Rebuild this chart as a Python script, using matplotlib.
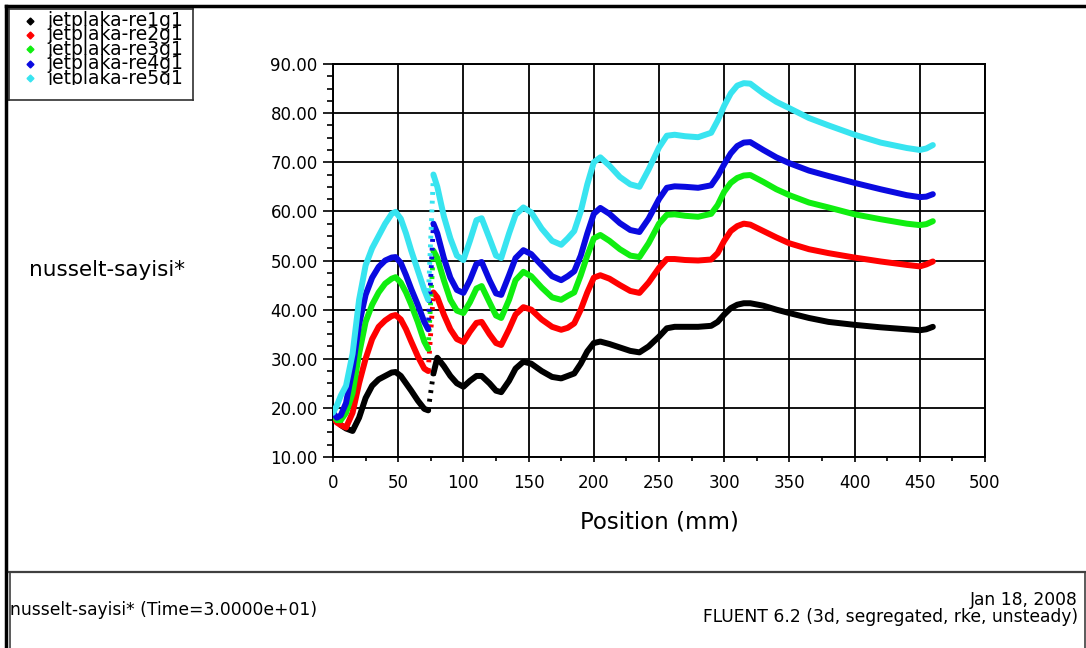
import matplotlib
matplotlib.use("Agg")
import matplotlib.pyplot as plt
from matplotlib.lines import Line2D
from matplotlib.patches import Rectangle
from matplotlib.ticker import MultipleLocator, FormatStrFormatter

plt.rcParams['font.family'] = ['DejaVu Sans']

series_names = ["jetplaka-re1g1", "jetplaka-re2g1", "jetplaka-re3g1",
                "jetplaka-re4g1", "jetplaka-re5g1"]
series_colors = ["#000000", "#ff0000", "#10ee10", "#0a0ae0", "#38e4f0"]

# positions (mm) before and after the jump near 75 mm
pos_left = [0, 3, 6, 10, 15, 20, 25, 30, 35, 40, 45, 48, 52, 56, 60, 65, 70, 73]
pos_right = [77, 80, 85, 90, 95, 100, 105, 110, 114, 120, 125, 129, 135, 140,
             146, 152, 160, 168, 175, 180, 185, 190, 195, 200, 205, 212, 220,
             228, 235, 242, 250, 256, 262, 270, 280, 290, 295, 300, 305, 310,
             315, 320, 330, 340, 350, 365, 380, 400, 420, 440, 450, 455, 460]

re1_left = [18.5, 17.5, 16.5, 15.8, 15.3, 18, 22, 24.5, 25.8, 26.5, 27.2, 27.3,
            26.5, 25, 23.5, 21.5, 19.8, 19.5]
re1_right = [27, 30.2, 28.5, 26.5, 25, 24.3, 25.5, 26.5, 26.5, 25, 23.5, 23.2,
             25.5, 28, 29.4, 29, 27.5, 26.3, 26, 26.5, 27, 29, 31.5, 33.2, 33.5,
             33, 32.3, 31.6, 31.3, 32.5, 34.5, 36.2, 36.5, 36.5, 36.5, 36.7,
             37.5, 39, 40.3, 41, 41.3, 41.3, 40.8, 40, 39.3, 38.3, 37.5, 36.9,
             36.4, 36, 35.8, 36, 36.5]

re2_left = [18, 17, 16.5, 16, 19, 25, 30, 34, 36.5, 37.8, 38.7, 38.9, 38, 36,
            33.5, 30.5, 28, 27.5]
re2_right = [43.5, 42.5, 39, 36, 34, 33.4, 35.5, 37.3, 37.5, 35, 33.2, 32.8, 36,
             39, 40.5, 40, 38, 36.5, 35.9, 36.3, 37.2, 40, 43.5, 46.5, 47, 46.3,
             45, 43.8, 43.4, 45.5, 48.5, 50.3, 50.3, 50.1, 50, 50.2, 51.5, 54,
             56, 57, 57.5, 57.3, 56, 54.7, 53.5, 52.3, 51.5, 50.6, 49.8, 49.1,
             48.8, 49.2, 49.8]

re3_left = [18.5, 17.5, 17.5, 19, 23, 31, 37.5, 41, 43.5, 45.3, 46.3, 46.6, 45.5,
            43.5, 41, 37.5, 33.5, 32]
re3_right = [52, 50.5, 46, 42, 39.8, 39.3, 41.5, 44.3, 44.8, 41.5, 38.8, 38.3,
             42, 46, 47.7, 46.8, 44.5, 42.5, 42, 42.8, 43.5, 47, 51, 54.5, 55.2,
             54, 52.3, 51, 50.7, 53.5, 57.5, 59.3, 59.4, 59.1, 58.9, 59.5, 61.3,
             64, 65.8, 66.8, 67.3, 67.4, 66, 64.5, 63.3, 61.8, 60.8, 59.4, 58.4,
             57.5, 57.2, 57.4, 58]

re4_left = [19, 18, 18.5, 21, 28, 37, 43, 46.5, 48.7, 50, 50.6, 50.7, 49.5, 47,
            44.2, 41, 37.5, 36]
re4_right = [57.5, 55.5, 50.5, 46.5, 44, 43.4, 46, 49.3, 49.7, 46, 43.3, 43, 47,
             50.5, 52.1, 51.3, 49, 46.8, 46, 46.8, 47.8, 51, 55.5, 59.5, 60.7,
             59.5, 57.6, 56.2, 55.8, 58.5, 62.5, 64.8, 65.1, 65, 64.8, 65.3,
             67.2, 69.6, 71.8, 73.3, 74, 74.1, 72.5, 71, 69.8, 68.3, 67.2, 65.8,
             64.5, 63.3, 62.9, 63, 63.5]

re5_left = [19, 20.5, 22.5, 24.5, 31, 42, 49, 52.5, 55, 57.5, 59.5, 59.9, 58.5,
            55.5, 52, 48, 44, 42]
re5_right = [67.5, 65, 59, 54.5, 51, 50.1, 54, 58.2, 58.6, 54.5, 51, 50.5, 55.5,
             59.3, 60.8, 59.8, 56.5, 54, 53.2, 54.5, 56, 60, 65.5, 70, 71, 69.3,
             67, 65.5, 65, 68.5, 73, 75.4, 75.6, 75.3, 75.1, 76, 78.5, 81.5, 84,
             85.6, 86.1, 86, 84, 82.3, 81, 79, 77.5, 75.6, 74, 72.9, 72.5, 72.8,
             73.5]

lefts = [re1_left, re2_left, re3_left, re4_left, re5_left]
rights = [re1_right, re2_right, re3_right, re4_right, re5_right]

x_ticks = [0, 50, 100, 150, 200, 250, 300, 350, 400, 450, 500]
y_ticks = [10, 20, 30, 40, 50, 60, 70, 80, 90]

W, H = 1086, 648
fig = plt.figure(figsize=(W / 100, H / 100), dpi=100)


def fx(px):
    return px / W


def fy(py):
    return 1 - py / H


ax = fig.add_axes([fx(333), fy(457), fx(985) - fx(333), fy(64) - fy(457)])

for yl, yr, c in zip(lefts, rights, series_colors):
    ax.plot(pos_left, yl, color=c, lw=4.3, solid_joinstyle='round',
            solid_capstyle='round', zorder=3)
    ax.plot(pos_right, yr, color=c, lw=4.3, solid_joinstyle='round',
            solid_capstyle='round', zorder=3)
    ax.plot([pos_left[-1], pos_right[0]], [yl[-1], yr[0]], color=c, lw=3.5,
            ls=(0, (0.6, 1.2)), zorder=3)

ax.set_xlim(0, 500)
ax.set_ylim(10, 90)
ax.set_xticks(x_ticks)
ax.set_yticks(y_ticks)
ax.yaxis.set_major_formatter(FormatStrFormatter('%.2f'))
ax.xaxis.set_minor_locator(MultipleLocator(25))
ax.yaxis.set_minor_locator(MultipleLocator(2.5))
ax.grid(True, which='major', color='black', lw=1.3, zorder=1)
ax.set_axisbelow(True)
for s in ax.spines.values():
    s.set_linewidth(1.4)
ax.tick_params(axis='y', which='major', direction='out', length=7, width=1.2,
               labelsize=12, pad=4)
ax.tick_params(axis='y', which='minor', direction='out', length=4.5, width=1.2)
ax.tick_params(axis='x', which='major', direction='out', length=3.6, width=1.2,
               labelsize=12, pad=9)
ax.tick_params(axis='x', which='minor', direction='out', length=3, width=1.2)

ax.set_xlabel("Position (mm)", fontsize=16.5)
ax.xaxis.set_label_coords(0.5, -(522 - 457) / 393)
ax.xaxis.label.set_va('center')
ax.set_ylabel("nusselt-sayisi*", fontsize=15.5, rotation=0, ha='left',
              va='center')
ax.yaxis.set_label_coords((29 - 333) / 652, (457 - 270) / 393)

# outer frame lines
fig.add_artist(Line2D([fx(6), fx(W)], [fy(6), fy(6)], color='black', lw=2.5))
fig.add_artist(Line2D([fx(6), fx(6)], [fy(6), fy(H)], color='black', lw=2.5))
# bottom info box
fig.add_artist(Line2D([fx(9), fx(W - 1)], [fy(572), fy(572)], color='#404040',
                      lw=1.6))
fig.add_artist(Line2D([fx(9.5), fx(9.5)], [fy(572), fy(H)], color='#404040',
                      lw=1.2))
fig.add_artist(Line2D([fx(W - 1.5), fx(W - 1.5)], [fy(572), fy(H)],
                      color='#404040', lw=1.2))

# legend box (last entry clipped)
lax = fig.add_axes([fx(9), fy(100), fx(193) - fx(9), fy(9) - fy(100)])
lax.set_xlim(0, 184)
lax.set_ylim(91, 0)
lax.set_xticks([])
lax.set_yticks([])
for s in lax.spines.values():
    s.set_linewidth(1.2)
    s.set_color('#303030')
clip_rect = Rectangle((0, 0), 184, 75.5, transform=lax.transData,
                      facecolor='none', edgecolor='none')
for i, (name, c) in enumerate(zip(series_names, series_colors)):
    yy = 11.5 + i * 14.4
    lax.plot([21], [yy], marker='D', ms=3.5, color=c, mec=c, clip_on=True)
    t = lax.text(38, yy, name, fontsize=13.5, va='center', ha='left',
                 clip_on=True)
    t.set_clip_path(clip_rect)

fig.text(fx(10), fy(610), "nusselt-sayisi* (Time=3.0000e+01)", fontsize=12.3,
         ha='left', va='center')
fig.text(fx(1078), fy(600), "Jan 18, 2008", fontsize=12.3, ha='right',
         va='center')
fig.text(fx(1078), fy(617), "FLUENT 6.2 (3d, segregated, rke, unsteady)",
         fontsize=12.3, ha='right', va='center')

fig.savefig("out.png", dpi=100)
